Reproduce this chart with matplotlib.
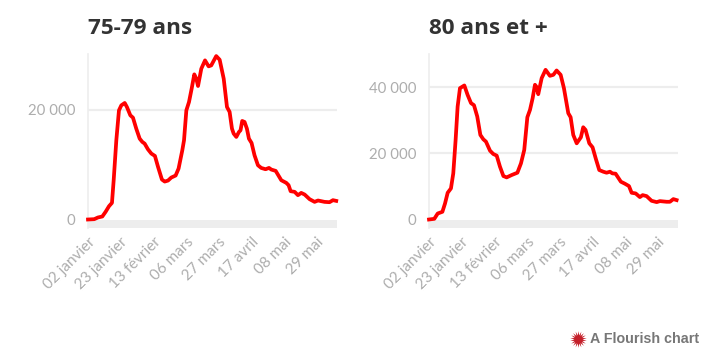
import matplotlib
matplotlib.use("Agg")
import matplotlib.pyplot as plt
from matplotlib.lines import Line2D

W = 724
H = 360

# jours depuis le 02 janvier
days_75 = [0, 4, 6.4, 9.2, 11.3, 13.5, 15.4, 16.5, 18.2, 19.9, 21.4, 23.6, 25, 27.2, 28.9, 31, 33.2, 34.9, 36.4, 38.5,
           40.7, 43, 45, 47.5, 49.3, 51.4, 53.5, 56.3, 58.2, 60.6, 61.7, 63.2, 64.9, 66.6, 68.3, 69.6, 70.7, 72.8,
           75.2, 77.5, 79.2, 82.4, 84.6, 87.2, 89.3, 91, 92.5, 93.6, 95.3, 97, 98, 99.1, 100.6, 102.1, 103.4, 105.1,
           107, 109.2, 111.3, 114.1, 116.3, 117.8, 120.6, 124.2, 127.4, 128.9, 130.2, 132.8, 134.9, 137, 139.2,
           142.4, 145.6, 147.8, 152, 155.2, 157.4, 159.5]
values_75 = [0, 60, 370, 550, 1400, 2430, 3040, 7170, 14470, 19940, 20850, 21280, 20550, 19030, 18600, 16600, 14770,
             14170, 13860, 12830, 12040, 11610, 9610, 7300, 6930, 7110, 7660, 8030, 9300, 12650, 14470, 19940, 21460,
             23890, 26510, 25720, 24380, 27540, 29060, 27970, 28150, 29850, 29180, 25720, 20550, 19640, 16600, 15690,
             15080, 15990, 16290, 18000, 17810, 16600, 14770, 13980, 11730, 9910, 9420, 9180, 9420, 9120, 8880, 7170,
             6690, 6260, 5170, 5050, 4440, 4860, 4560, 3710, 3220, 3470, 3220, 3160, 3530, 3400]

days_80 = [0, 3.4, 5.6, 8.6, 10.3, 12, 14.1, 15.6, 17.1, 18.4, 19.9, 22.7, 24.8, 27, 28.9, 31, 33, 34.9, 36.6, 39.2,
           41.3, 43.5, 45.6, 47.8, 49.9, 53.1, 56.8, 59.1, 61.2, 63.2, 64.9, 66.6, 68.1, 69.2, 70.2, 72.4, 74.9,
           77.7, 79.9, 82, 84.6, 86.7, 89.5, 91, 92.7, 94.9, 97.6, 99.1, 100.6, 103, 105.1, 107.3, 109.4, 112, 114.1,
           116.3, 117.8, 119.9, 123.3, 125.9, 128.5, 130.2, 132.8, 135.5, 137.3, 139.8, 143, 146.3, 148.4, 152.7,
           154.8, 157, 159.1]
values_80 = [0, 200, 1820, 2330, 4860, 8100, 9420, 13980, 24110, 34240, 39800, 40620, 37760, 35260, 34640, 31210,
             25630, 24310, 23600, 20860, 19850, 19350, 16010, 13170, 12760, 13470, 14180, 17020, 21070, 30990, 33220,
             36770, 40820, 40110, 37970, 42830, 45360, 43540, 43840, 45160, 43840, 39800, 32210, 30990, 25630, 23090,
             24910, 27950, 27140, 23090, 21880, 18230, 14990, 14480, 14180, 14480, 13980, 13880, 11450, 10840, 10130,
             8100, 7900, 6790, 7390, 7090, 5670, 5270, 5570, 5370, 5370, 6180, 5880]

tick_days = [0, 21, 42, 63, 84, 105, 126, 147]
tick_labels = ["02 janvier", "23 janvier", "13 février", "06 mars", "27 mars", "17 avril", "08 mai", "29 mai"]

GREY = "#ededed"
TEXT_GREY = "#adadad"


def fmt(v):
    return "0" if v == 0 else "{} 000".format(v // 1000)


def draw_panel(left, title, days, values, yticks, px_per_unit):
    # y pixels: top 54, zero 219.5, bottom 228
    top, zero, bottom = 54, 219.5, 228
    ax = fig.add_axes([left / W, 1 - bottom / H, 249 / W, (bottom - top) / H])
    ax.set_xlim(0, 160)
    ax.set_ylim(-(bottom - zero) / px_per_unit, (zero - top) / px_per_unit)
    ax.axhspan(-(bottom - zero) / px_per_unit, 0, color=GREY, lw=0, zorder=1)
    for y in yticks:
        if y != 0:
            ax.axhline(y, color=GREY, lw=1.6, zorder=1)
    ax.plot(days, values, color="#ff0000", lw=2.7, zorder=3, clip_on=False, solid_joinstyle="round")
    for s in ["top", "right", "bottom"]:
        ax.spines[s].set_visible(False)
    ax.spines["left"].set_color(GREY)
    ax.spines["left"].set_linewidth(1.2)
    ax.set_yticks(yticks)
    ax.set_yticklabels([fmt(y) for y in yticks], fontsize=10.8, color=TEXT_GREY)
    ax.set_xticks(tick_days)
    ax.set_xticklabels(tick_labels, rotation=45, ha="right", rotation_mode="anchor", fontsize=11, color=TEXT_GREY)
    ax.tick_params(axis="both", length=0)
    ax.tick_params(axis="y", pad=9)
    ax.tick_params(axis="x", pad=5)
    fig.text(left / W, 1 - 28 / H, title, fontsize=16.2, fontweight="bold", color="#333333", va="center", ha="left",
             family="Open Sans")


plt.rcParams["font.family"] = ["Lato", "DejaVu Sans"]
fig = plt.figure(figsize=(W / 100, H / 100), dpi=100)

draw_panel(88, "75-79 ans", days_75, values_75, [0, 20000], 109.5 / 20000)
draw_panel(429, "80 ans et +", days_80, values_80, [0, 20000, 40000], 66 / 20000)

# Flourish credit
fig.add_artist(Line2D([578 / W], [1 - 339 / H], transform=fig.transFigure, marker=(18, 1, 0), ms=12,
                      color="#c4202a", mew=0, ls="none"))
fig.text(699 / W, 1 - 339 / H, "A Flourish chart", fontsize=10.3, fontweight="bold", color="#777777",
         family="Liberation Sans", ha="right", va="center")

fig.savefig("out.png", dpi=100)
